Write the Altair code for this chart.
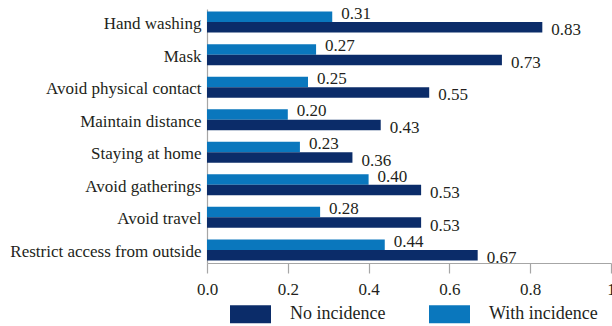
import altair as alt
import pandas as pd

# Share of respondents reporting each preventive measure
categories = [
    "Hand washing",
    "Mask",
    "Avoid physical contact",
    "Maintain distance",
    "Staying at home",
    "Avoid gatherings",
    "Avoid travel",
    "Restrict access from outside",
]
with_incidence = [0.31, 0.27, 0.25, 0.20, 0.23, 0.40, 0.28, 0.44]
no_incidence = [0.83, 0.73, 0.55, 0.43, 0.36, 0.53, 0.53, 0.67]

series_names = ["No incidence", "With incidence"]
series_colors = ["#0B2C69", "#0A77BD"]

rows = []
for cat, w, n in zip(categories, with_incidence, no_incidence):
    rows.append({"category": cat, "series": "With incidence", "value": w})
    rows.append({"category": cat, "series": "No incidence", "value": n})
df = pd.DataFrame(rows)

FONT = "Liberation Serif"
TEXT_COLOR = "#231F20"
AXIS_GRAY = "#A6A6A6"

base = alt.Chart(df).encode(
    y=alt.Y(
        "category:N",
        sort=categories,
        scale=alt.Scale(paddingInner=0.355, paddingOuter=0.08),
        axis=alt.Axis(
            title=None,
            ticks=False,
            labelPadding=6,
            labelOffset=2,
            labelFont=FONT,
            labelFontSize=17,
            labelColor=TEXT_COLOR,
            labelLimit=300,
            domainColor=AXIS_GRAY,
            domainWidth=1.2,
        ),
    ),
    yOffset=alt.YOffset("series:N", sort=["With incidence", "No incidence"]),
    x=alt.X(
        "value:Q",
        scale=alt.Scale(domain=[0, 1], nice=False),
        axis=alt.Axis(
            title=None,
            values=[0, 0.2, 0.4, 0.6, 0.8, 1],
            labelExpr="datum.value == 1 ? '1' : format(datum.value, '.1f')",
            grid=False,
            tickSize=10,
            tickColor=AXIS_GRAY,
            tickWidth=1.2,
            domainColor=AXIS_GRAY,
            domainWidth=1.2,
            labelPadding=8,
            labelFont=FONT,
            labelFontSize=17,
            labelColor=TEXT_COLOR,
            labelFlush=False,
        ),
    ),
)

bars = base.mark_bar().encode(
    color=alt.Color(
        "series:N",
        scale=alt.Scale(domain=series_names, range=series_colors),
        legend=alt.Legend(
            title=None,
            orient="none",
            legendX=23,
            legendY=284.5,
            direction="horizontal",
            symbolType="M-1,-0.439H1V0.439H-1Z",
            symbolSize=1681,
            symbolStrokeWidth=0,
            symbolOpacity=1,
            labelFont=FONT,
            labelFontSize=18,
            labelColor=TEXT_COLOR,
            labelOffset=19,
            columnPadding=43,
            padding=0,
        ),
    )
)

label_common = dict(align="left", baseline="middle", dx=9, font=FONT, fontSize=17, color=TEXT_COLOR)

labels_with = base.transform_filter(
    alt.datum.series == "With incidence"
).mark_text(dy=-3, **label_common).encode(text=alt.Text("value:Q", format=".2f"))

labels_no = base.transform_filter(
    alt.datum.series == "No incidence"
).mark_text(dy=3, **label_common).encode(text=alt.Text("value:Q", format=".2f"))

chart = (
    alt.layer(bars, labels_with, labels_no)
    .properties(
        width=404,
        height=254,
        autosize=alt.AutoSizeParams(type="none"),
        padding={"left": 207, "top": 9, "right": 1, "bottom": 63},
        background="white",
    )
    .configure_view(stroke=None)
)

chart.save("out.html", embed_options={"renderer": "svg", "actions": False})
